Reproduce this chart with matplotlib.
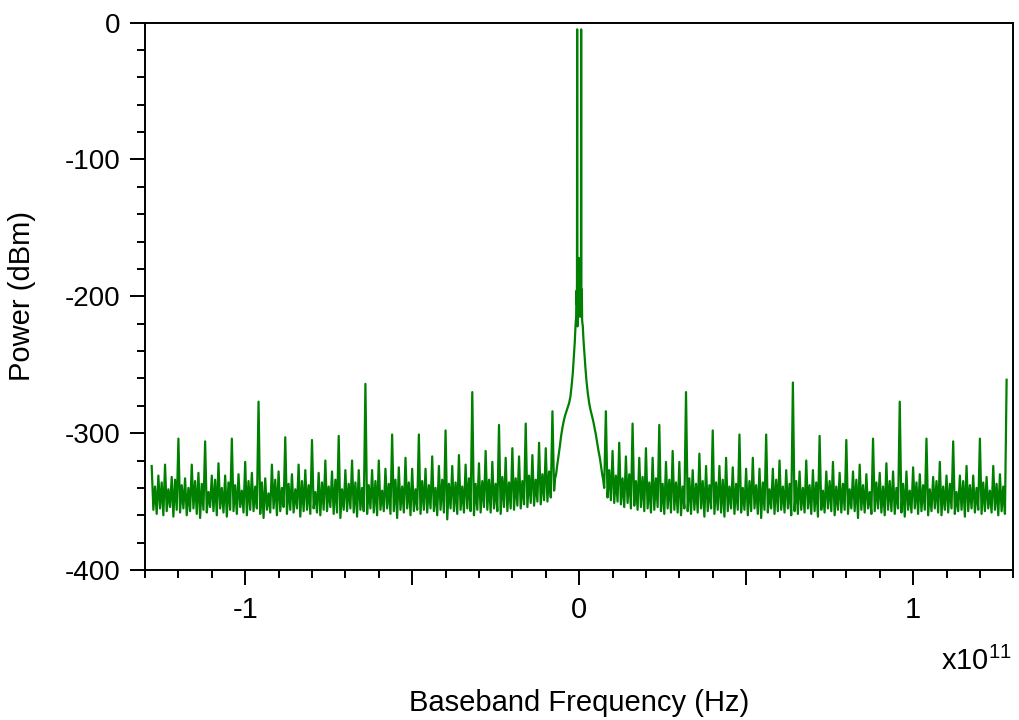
import numpy as np
import matplotlib
matplotlib.use("Agg")
import matplotlib.pyplot as plt
from matplotlib.ticker import MultipleLocator, FuncFormatter

# frequencies in units of 1e11 Hz, power in dBm
HZ = 1e11

# spike tops on the 0.02 grid, -1.28 ... -0.08
spike_left = [
    -324, -331, -323, -332, -304, -333, -323, -329, -306, -331,
    -322, -331, -304, -330, -321, -329, -277, -333, -323, -328,
    -303, -330, -323, -327, -305, -329, -320, -328, -302, -327,
    -320, -327, -264, -327, -320, -326, -301, -325, -318, -326,
    -301, -326, -317, -324, -298, -324, -316, -323, -270, -322,
    -313, -321, -294, -318, -311, -317, -293, -316, -307, -311,
    -284,
]
# spike tops on the 0.02 grid, 0.08 ... 1.28
spike_right = [
    -284, -313, -307, -317, -293, -318, -311, -318, -294, -321,
    -313, -321, -270, -327, -315, -324, -298, -324, -318, -325,
    -301, -326, -318, -326, -301, -326, -320, -327, -263, -328,
    -320, -327, -302, -328, -321, -329, -305, -328, -323, -330,
    -304, -329, -322, -328, -277, -328, -325, -330, -304, -332,
    -321, -331, -306, -331, -324, -331, -304, -332, -324, -330,
    -261,
]
# smaller peaks halfway between spikes
mid_left = [
    -339, -336, -341, -334, -338, -340, -335, -337, -343, -334,
    -340, -336, -338, -342, -335, -339, -336, -344, -334, -340,
    -337, -341, -335, -338, -343, -336, -339, -334, -341, -337,
    -336, -340, -338, -335, -342, -337, -334, -339, -336, -341,
    -335, -338, -340, -334, -337, -336, -339, -333, -337, -335,
    -334, -337, -332, -336, -333, -335, -331, -334, -330, -328,
]
mid_right = [
    -327, -331, -333, -330, -335, -332, -336, -333, -337, -334,
    -336, -339, -333, -337, -335, -338, -336, -334, -339, -337,
    -340, -335, -338, -336, -341, -334, -339, -337, -335, -340,
    -338, -336, -342, -335, -339, -337, -341, -334, -338, -343,
    -336, -339, -335, -340, -337, -342, -336, -338, -341, -335,
    -339, -337, -343, -335, -338, -340, -336, -342, -337, -339,
]
# noise floor troughs, every 0.01 starting at -1.275 / 0.085
floor_left = [
    -356, -359, -355, -360, -357, -354, -361, -356, -358, -355,
    -360, -357, -355, -359, -362, -356, -358, -354, -357, -360,
    -355, -358, -361, -356, -357, -359, -354, -358, -360, -356,
    -357, -355, -359, -362, -356, -358, -355, -360, -357, -354,
    -359, -356, -358, -355, -361, -357, -356, -359, -355, -358,
    -360, -356, -357, -354, -359, -358, -362, -356, -357, -355,
    -358, -361, -356, -357, -359, -355, -358, -360, -356, -357,
    -355, -359, -357, -362, -356, -358, -355, -360, -357, -356,
    -359, -356, -358, -355, -357, -360, -356, -358, -363, -355,
    -357, -359, -356, -358, -355, -357, -360, -356, -358, -354,
    -356, -358, -355, -357, -359, -354, -357, -355, -356, -353,
    -355, -352, -354, -351, -353, -350, -352, -349, -350, -347,
]
floor_right = [
    -347, -349, -351, -350, -352, -354, -351, -355, -353, -356,
    -354, -357, -355, -358, -356, -354, -357, -359, -355, -358,
    -356, -358, -360, -355, -357, -359, -356, -358, -355, -361,
    -357, -355, -359, -356, -358, -361, -357, -355, -359, -356,
    -358, -356, -360, -357, -355, -359, -362, -356, -358, -355,
    -359, -357, -356, -358, -355, -360, -357, -359, -356, -358,
    -355, -359, -357, -361, -356, -358, -355, -357, -360, -356,
    -358, -356, -359, -355, -357, -362, -356, -358, -355, -359,
    -357, -355, -358, -360, -356, -357, -359, -355, -358, -361,
    -356, -358, -355, -359, -357, -356, -360, -357, -355, -358,
    -360, -356, -358, -355, -359, -357, -356, -361, -357, -355,
    -358, -356, -359, -357, -355, -358, -356, -360, -357, -359,
]
# carrier region around 0 Hz
core_freq = [
    -0.075, -0.072, -0.069, -0.066, -0.062, -0.058, -0.054, -0.050, -0.046,
    -0.042, -0.038, -0.034, -0.030, -0.026, -0.022, -0.019, -0.016, -0.013,
    -0.011, -0.009, -0.008, -0.007, -0.0065, -0.006, -0.0055, -0.005, -0.004,
    -0.003, -0.0025, -0.002, -0.001, 0.000, 0.001, 0.0015, 0.002, 0.003,
    0.004, 0.005, 0.0055, 0.006, 0.0065, 0.007, 0.008, 0.009, 0.011, 0.013,
    0.016, 0.019, 0.022, 0.026, 0.030, 0.034, 0.038, 0.042, 0.046, 0.050,
    0.054, 0.058, 0.062, 0.066, 0.069, 0.072, 0.075,
]
core_db = [
    -342, -333, -330, -324, -317, -310, -302, -296, -291,
    -287, -284, -281, -278, -273, -264, -256, -245, -233,
    -222, -215, -196, -206, -190, -5, -200, -222, -188,
    -210, -180, -203, -172, -196, -182, -208, -187, -215,
    -176, -200, -190, -5, -198, -212, -195, -218, -222, -232,
    -243, -253, -262, -271, -278, -283, -287, -291, -296, -301,
    -307, -313, -318, -325, -330, -334, -340,
]


def side_trace(start, spikes, mids, floors):
    n = len(mids)
    vals = np.column_stack([spikes[:n], floors[0::2], mids, floors[1::2]]).ravel()
    vals = np.append(vals, spikes[n])
    freq = start + 0.005 * np.arange(len(vals))
    return freq, vals


fl, vl = side_trace(-1.28, spike_left, mid_left, np.array(floor_left))
fr, vr = side_trace(0.08, spike_right, mid_right, np.array(floor_right))

freq = np.concatenate([fl, core_freq, fr]) * HZ
power = np.concatenate([vl, core_db, vr])

plt.rcParams['font.family'] = ['Liberation Sans', 'DejaVu Sans']
plt.rcParams['axes.unicode_minus'] = False
plt.rcParams['mathtext.default'] = 'regular'

fig = plt.figure(figsize=(10.19, 7.2), dpi=100)
ax = fig.add_axes([0.1423, 0.2083, 0.8521, 0.7604])

ax.plot(freq, power, color='#008000', linewidth=1.6)

ax.set_xlim(-1.30 * HZ, 1.30 * HZ)
ax.set_ylim(-400, 0)

ax.xaxis.set_major_locator(MultipleLocator(0.5 * HZ))
ax.xaxis.set_minor_locator(MultipleLocator(0.1 * HZ))
ax.yaxis.set_major_locator(MultipleLocator(100))
ax.yaxis.set_minor_locator(MultipleLocator(20))


def xfmt(v, pos):
    u = v / HZ
    if abs(u - round(u)) < 1e-6:
        return "%d" % round(u)
    return ""


ax.xaxis.set_major_formatter(FuncFormatter(xfmt))
ax.yaxis.set_major_formatter(FuncFormatter(lambda v, p: "%d" % v))

ax.tick_params(which='both', direction='out', width=1.4, top=False, right=False)
ax.tick_params(which='major', length=10.8)
ax.tick_params(which='minor', length=6)
ax.tick_params(axis='x', labelsize=21, pad=8)
ax.tick_params(axis='y', labelsize=20, pad=7)
for s in ax.spines.values():
    s.set_linewidth(1.4)

ax.set_xlabel("Baseband Frequency (Hz)", fontsize=21)
ax.xaxis.set_label_coords(0.5, -0.243)
ax.xaxis.label.set_va('center')
ax.set_ylabel("Power (dBm)", fontsize=21)
ax.yaxis.set_label_coords(-0.1417, 0.5)
ax.yaxis.label.set_va('center')

fig.text(0.993, 0.069, "x10$^{11}$", fontsize=21, ha='right', va='baseline')

fig.savefig("out.png", dpi=100)
